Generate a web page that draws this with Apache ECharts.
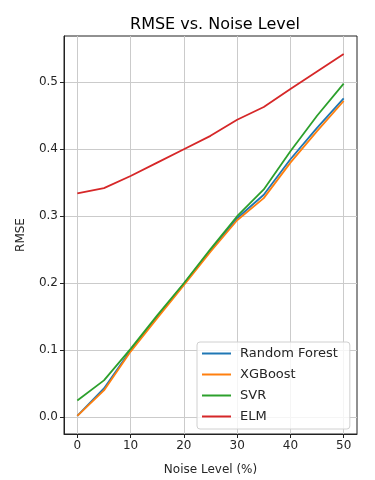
<!DOCTYPE html>
<html>
<head>
<meta charset="utf-8">
<script src="https://cdn.jsdelivr.net/npm/echarts@6/dist/echarts.min.js"></script>
<style>
html,body{margin:0;padding:0;background:#fff;}
#chart{width:375px;height:480px;}
</style>
</head>
<body>
<div id="chart"></div>
<script>
const noiseLevels = [0, 5, 10, 15, 20, 25, 30, 35, 40, 45, 50];
const randomForest = [0.002, 0.043, 0.100, 0.150, 0.199, 0.249, 0.297, 0.332, 0.385, 0.432, 0.476];
const xgboost = [0.002, 0.040, 0.098, 0.148, 0.197, 0.247, 0.294, 0.327, 0.380, 0.427, 0.472];
const svr = [0.025, 0.055, 0.102, 0.152, 0.200, 0.251, 0.300, 0.340, 0.397, 0.450, 0.498];
const elm = [0.334, 0.342, 0.360, 0.380, 0.400, 0.420, 0.444, 0.463, 0.490, 0.516, 0.542];
const xTicks = [0, 10, 20, 30, 40, 50];
const yTicks = [0.0, 0.1, 0.2, 0.3, 0.4, 0.5];
const seriesNames = ['Random Forest', 'XGBoost', 'SVR', 'ELM'];
const seriesColors = ['#1f77b4', '#ff7f0e', '#2ca02c', '#d62728'];
const seriesValues = [randomForest, xgboost, svr, elm];

const font = 'DejaVu Sans';
const textColor = '#262626';
const gridColor = '#cbcbcb';
const chart = echarts.init(document.getElementById('chart'), null, {renderer: 'canvas'});

const series = seriesNames.map((name, i) => ({
  name: name,
  type: 'line',
  data: noiseLevels.map((x, j) => [x, seriesValues[i][j]]),
  symbol: 'none',
  lineStyle: {color: seriesColors[i], width: 1.8},
  itemStyle: {color: seriesColors[i]},
  z: 3 + i,
  animation: false
}));

chart.setOption({
  animation: false,
  backgroundColor: '#fff',
  title: {
    text: 'RMSE vs. Noise Level',
    left: 210,
    top: 12,
    textAlign: 'center',
    textStyle: {fontFamily: font, fontSize: 16, fontWeight: 'normal', color: '#000'}
  },
  grid: {
    left: 64, right: 18, top: 36, bottom: 46,
    containLabel: false,
    outerBoundsMode: 'none',
    show: true, borderColor: '#222', borderWidth: 1, backgroundColor: 'transparent'
  },
  legend: {
    orient: 'vertical',
    left: 197,
    top: 342,
    width: 154,
    padding: [5, 12, 6, 5],
    itemGap: 8,
    itemWidth: 29,
    itemHeight: 2,
    icon: 'rect',
    borderColor: '#d0d0d0',
    borderWidth: 1,
    borderRadius: 3,
    backgroundColor: 'rgba(255,255,255,0.8)',
    textStyle: {fontFamily: font, fontSize: 13, color: textColor, padding: [0, 0, 0, 4]},
    data: seriesNames
  },
  xAxis: {
    type: 'value',
    min: -2.5,
    max: 52.5,
    name: 'Noise Level (%)',
    nameLocation: 'middle',
    nameGap: 30,
    nameTextStyle: {fontFamily: font, fontSize: 12, color: textColor},
    axisLine: {show: true, onZero: false, lineStyle: {color: '#222', width: 1}},
    axisTick: {show: true, length: 4, customValues: xTicks, lineStyle: {color: '#222'}},
    axisLabel: {customValues: xTicks, margin: 6, fontFamily: font, fontSize: 12, color: textColor},
    splitLine: {show: true, lineStyle: {color: gridColor, width: 1}}
  },
  yAxis: {
    type: 'value',
    min: -0.025,
    max: 0.569,
    name: 'RMSE',
    nameLocation: 'middle',
    nameGap: 37,
    nameRotate: 90,
    nameTextStyle: {fontFamily: font, fontSize: 12, color: textColor},
    axisLine: {show: true, onZero: false, lineStyle: {color: '#222', width: 1}},
    axisTick: {show: true, length: 4, customValues: yTicks, lineStyle: {color: '#222'}},
    axisLabel: {customValues: yTicks, margin: 6, fontFamily: font, fontSize: 12, color: textColor,
      formatter: v => v.toFixed(1)},
    splitLine: {show: true, lineStyle: {color: gridColor, width: 1}}
  },
  series: series
});
</script>
</body>
</html>
